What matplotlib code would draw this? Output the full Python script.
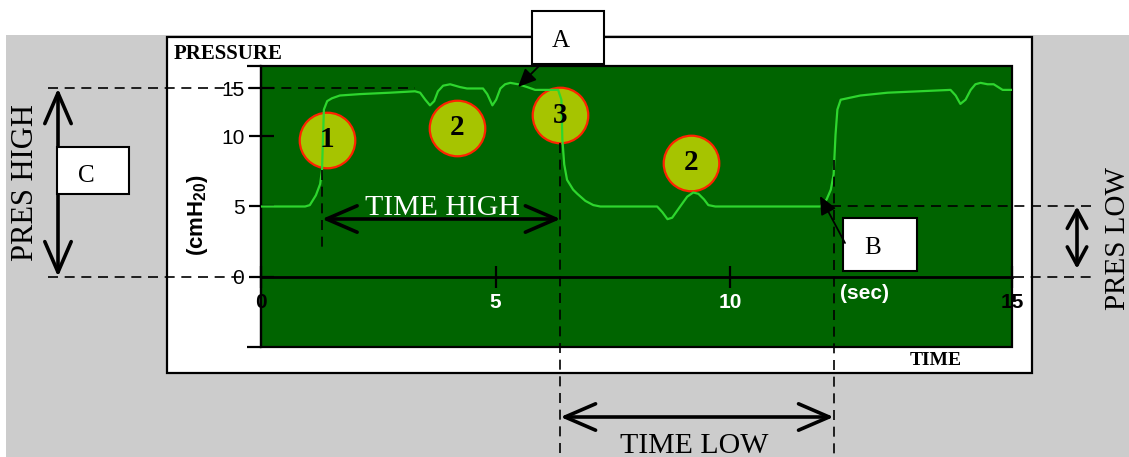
import matplotlib
matplotlib.use('Agg')
import matplotlib.pyplot as plt
from matplotlib.patches import Rectangle, FancyArrowPatch

plt.rcParams['font.family'] = ['Liberation Sans', 'DejaVu Sans']
plt.rcParams['mathtext.fontset'] = 'custom'
plt.rcParams['mathtext.rm'] = 'Liberation Sans'
plt.rcParams['mathtext.bf'] = 'Liberation Sans:bold'

# ---------------- data ----------------
time_s = [0.00, 0.94, 1.04, 1.17, 1.26, 1.30, 1.32, 1.34, 1.41, 1.51, 1.68, 2.11, 2.75,
          3.28, 3.39, 3.50, 3.60, 3.69, 3.77, 3.88, 4.03, 4.24, 4.39, 4.73, 4.82, 4.93,
          5.01, 5.10, 5.20, 5.31, 5.48, 5.67, 5.84, 6.10, 6.33, 6.40, 6.42, 6.46, 6.52,
          6.65, 6.74, 6.91, 7.08, 7.23, 8.44, 8.55, 8.66, 8.76, 8.93, 9.08, 9.21, 9.32,
          9.44, 9.53, 9.68, 11.56, 11.92, 12.05, 12.14, 12.20, 12.24, 12.28, 12.35, 12.49,
          12.77, 13.35, 14.69, 14.80, 14.90, 15.01, 15.12, 15.22, 15.33, 15.48, 15.61,
          15.80, 15.99]
pressure = [5.0, 5.0, 5.1, 5.8, 6.6, 7.6, 9.8, 11.9, 12.5, 12.7, 12.9, 13.0, 13.1,
            13.2, 13.1, 12.6, 12.2, 12.5, 13.2, 13.6, 13.7, 13.5, 13.4, 13.4, 13.0, 12.2,
            12.6, 13.4, 13.7, 13.8, 13.7, 13.5, 13.3, 13.3, 13.3, 12.6, 9.8, 8.0, 6.9,
            6.2, 5.9, 5.4, 5.1, 5.0, 5.0, 4.6, 4.1, 4.2, 5.0, 5.7, 6.0, 5.9,
            5.5, 5.1, 5.0, 5.0, 5.0, 5.5, 6.2, 7.3, 10.1, 11.9, 12.6, 12.7,
            12.9, 13.1, 13.3, 12.9, 12.3, 12.6, 13.3, 13.7, 13.8, 13.7, 13.7,
            13.3, 13.3]

x_ticks = [0, 5, 10, 16]
x_tick_labels = ['0', '5', '10', '15']
x_tick_colors = ['black', 'white', 'white', 'black']
y_ticks = [0, 5, 10, 13.4]
y_tick_labels = ['0', '5', '10', '15']

p_high = 13.4
p_low = 5.0
t_high_start = 1.30
t_high_end = 6.38
t_low_end = 12.20

circle_t = [1.41, 4.18, 6.38, 9.17]
circle_p = [9.74, 10.6, 11.5, 8.1]
circle_labels = ['1', '2', '3', '2']

# ---------------- figure ----------------
W, H = 1129, 457
fig = plt.figure(figsize=(W / 100, H / 100), dpi=100)
fig.patch.set_facecolor('white')

SERIF = ['Liberation Serif', 'DejaVu Serif']


def frac(x0, y0, x1, y1):
    return [x0 / W, 1 - y1 / H, (x1 - x0) / W, (y1 - y0) / H]


bg = fig.add_axes([0, 0, 1, 1], zorder=0)
bg.set_xlim(0, W)
bg.set_ylim(H, 0)
bg.axis('off')
bg.add_patch(Rectangle((6, 35), W - 6, H - 35, fc='#cccccc', ec='none'))
bg.add_patch(Rectangle((167, 37), 865, 336, fc='white', ec='black', lw=1.6))
bg.text(174, 59, 'PRESSURE', family=SERIF, weight='bold', fontsize=15, va='baseline')
bg.text(936, 365, 'TIME', family=SERIF, weight='bold', fontsize=14,
        ha='center', va='baseline')
bg.text(198, 215, r'$\mathbf{(cmH_{20})}$', rotation=90, fontsize=16,
        ha='center', va='center')

ax = fig.add_axes(frac(261, 66, 1012, 347), zorder=1)
ax.set_facecolor('#006400')
ax.set_xlim(0, 16)
ax.set_ylim(-5, 15)
for s in ['top', 'right']:
    ax.spines[s].set_visible(False)
ax.spines['bottom'].set_position(('data', 0))
ax.spines['bottom'].set_linewidth(2)
ax.spines['left'].set_linewidth(1.6)
ax.add_patch(Rectangle((0, 0), 1, 1, transform=ax.transAxes, fill=False,
                       ec='black', lw=1.6, clip_on=False, zorder=3))

ax.set_xticks(x_ticks)
ax.set_xticklabels(x_tick_labels, fontsize=15, fontweight='bold')
for lab, c in zip(ax.get_xticklabels(), x_tick_colors):
    lab.set_color(c)
ax.tick_params(axis='x', direction='inout', length=16, width=1.6, pad=4)
ax.set_yticks(y_ticks)
ax.set_yticklabels(y_tick_labels, fontsize=15)
ax.tick_params(axis='y', direction='inout', length=18, width=1.6, pad=3)
ax.set_yticks([-5, 15], minor=True)
ax.tick_params(axis='y', which='minor', direction='out', length=10, width=1.6)
ax.text(12.85, -0.55, '(sec)', color='white', fontsize=15, fontweight='bold',
        ha='center', va='top')

ax.scatter(circle_t, circle_p, s=1600, facecolor='#a6c400', edgecolor='#ff2200',
           linewidth=1.6, zorder=4)
ax.plot(time_s, pressure, color='#2ed62e', lw=1.6, zorder=5)
for t, p, lab in zip(circle_t, circle_p, circle_labels):
    ax.text(t, p, lab, family=SERIF, weight='bold', fontsize=21, ha='center',
            va='center', color='black', zorder=6)

# ---------------- overlay annotations ----------------
ov = fig.add_axes([0, 0, 1, 1], zorder=2)
ov.set_xlim(0, W)
ov.set_ylim(H, 0)
ov.axis('off')


def to_px(t, p):
    return ov.transData.inverted().transform(ax.transData.transform((t, p)))


dash = dict(color='black', lw=1.2, linestyle=(0, (6, 4)))
xh, yh = to_px(3.28, p_high)
ov.plot([48, xh], [yh, yh], **dash)
x_left, y0 = to_px(0, 0)
ov.plot([48, 247], [y0, y0], **dash)
x_right, _ = to_px(16, 0)
ov.plot([x_right + 2, 1095], [y0, y0], **dash)
xl, yl = to_px(12.14, p_low)
ov.plot([xl, 1095], [yl, yl], **dash)

xa, ya = to_px(t_high_start, 7.6)
_, yb = to_px(t_high_start, 2.1)
ov.plot([xa, xa], [ya, yb], **dash)
xb, ya = to_px(t_high_end, 9.5)
ov.plot([xb, xb], [ya, H], **dash)
xc, ya = to_px(t_low_end, 8.3)
ov.plot([xc, xc], [ya, H], **dash)


def dbl(p0, p1, hl, hw, lw=2.6):
    ov.add_patch(FancyArrowPatch(p0, p1,
                                 arrowstyle=f'<->,head_length={hl},head_width={hw}',
                                 mutation_scale=1, lw=lw, color='black',
                                 shrinkA=0, shrinkB=0))


dbl((xa, 219), (xb, 219), 22, 9.5)
dbl((xb, 417), (xc, 417), 22, 9.5)
dbl((58, yh), (58, y0), 22, 9.5)
dbl((1077, yl), (1077, y0 - 8), 13, 7)

ov.text((xa + xb) / 2 + 1, 215, 'TIME HIGH', family=SERIF, fontsize=21.5,
        color='white', ha='center', va='baseline')
ov.text((xb + xc) / 2 - 3, 453, 'TIME LOW', family=SERIF, fontsize=21.5,
        color='black', ha='center', va='baseline')
ov.text(33, 183, 'PRES HIGH', family=SERIF, fontsize=22, rotation=90,
        rotation_mode='anchor', ha='center', va='baseline')
ov.text(1125, 238, 'PRES LOW', family=SERIF, fontsize=21, rotation=90,
        rotation_mode='anchor', ha='center', va='baseline')

boxes = [((532, 11), 72, 53, 'A', (561, 47)),
         ((843, 218), 74, 53, 'B', (873, 254)),
         ((57, 147), 72, 47, 'C', (86, 182))]
for (bx, by), bw, bh, lab, (tx, ty) in boxes:
    ov.add_patch(Rectangle((bx, by), bw, bh, fc='white', ec='black', lw=1.5))
    ov.text(tx, ty, lab, family=SERIF, fontsize=18, ha='center', va='baseline')


def pointer(p0, p1):
    ov.add_patch(FancyArrowPatch(p0, p1,
                                 arrowstyle='-|>,head_length=11,head_width=5',
                                 mutation_scale=1, lw=1.3, color='black',
                                 shrinkA=0, shrinkB=0))


pointer((541, 64), (518, 87))
pointer((845, 243), (820, 196))

fig.savefig('out.png', dpi=100)
